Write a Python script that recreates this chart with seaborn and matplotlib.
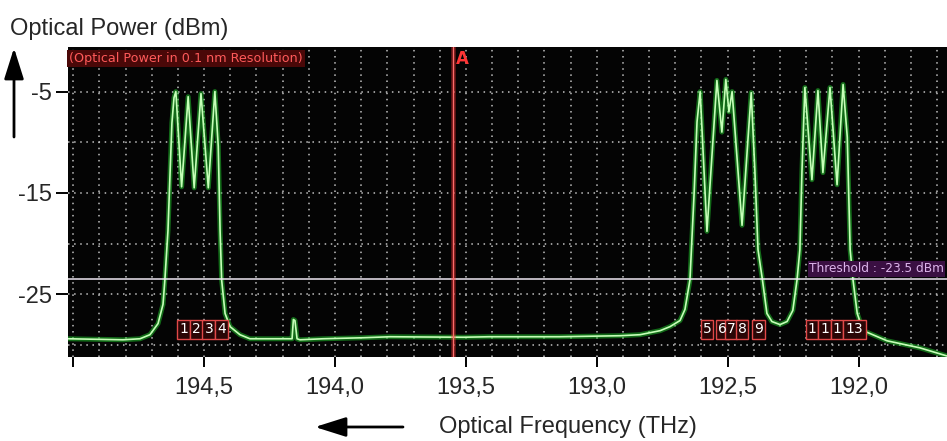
import numpy as np
import pandas as pd
import matplotlib.pyplot as plt
import seaborn as sns
from matplotlib import font_manager
from matplotlib.patches import Rectangle, FancyArrowPatch, ArrowStyle
from matplotlib.ticker import MultipleLocator

# OSA trace: optical frequency (THz) and power (dBm)
freq_thz = [195.020, 194.810, 194.745, 194.707, 194.676, 194.657, 194.650, 194.638, 194.631, 194.623,
            194.615, 194.608, 194.586, 194.561, 194.538, 194.512, 194.484, 194.459, 194.446, 194.439,
            194.433, 194.420, 194.401, 194.363, 194.325, 194.172, 194.164, 194.159, 194.153, 194.145,
            194.134, 194.046, 193.893, 193.790, 193.511, 193.410, 193.143, 192.911, 192.835, 192.758,
            192.720, 192.682, 192.663, 192.644, 192.628, 192.617, 192.605, 192.579, 192.541, 192.522,
            192.507, 192.495, 192.483, 192.445, 192.410, 192.396, 192.384, 192.367, 192.350, 192.331,
            192.300, 192.273, 192.251, 192.235, 192.224, 192.216, 192.205, 192.178, 192.155, 192.136,
            192.109, 192.082, 192.059, 192.043, 192.032, 192.021, 192.005, 191.982, 191.891, 191.765,
            191.662]
power_dbm = [-29.4, -29.5, -29.4, -29.0, -27.9, -26.0, -23.6, -18.7, -13.7, -8.1,
             -5.6, -5.0, -14.4, -5.5, -14.5, -5.2, -14.5, -5.0, -10.4, -18.7,
             -23.6, -26.9, -28.2, -29.0, -29.4, -29.4, -29.4, -27.5, -27.6, -29.4,
             -29.5, -29.4, -29.3, -29.2, -29.25, -29.2, -29.2, -29.1, -29.0, -28.6,
             -28.2, -27.6, -26.5, -23.6, -15.0, -8.0, -5.0, -18.8, -3.9, -9.0,
             -3.8, -7.0, -5.0, -18.2, -5.1, -12.8, -20.6, -23.6, -26.9, -27.7,
             -28.0, -27.7, -26.6, -23.6, -20.6, -12.8, -4.6, -13.7, -4.9, -13.0,
             -4.6, -14.2, -4.3, -9.5, -20.6, -23.6, -26.9, -28.6, -29.6, -30.3,
             -31.1]

# channel label boxes
channel_labels = ['1', '2', '3', '4', '5', '6', '7', '8', '9', '1', '1', '1', '13']
channel_label_freq = [194.579, 194.530, 194.482, 194.433, 192.579, 192.519, 192.487, 192.445,
                      192.382, 192.178, 192.130, 192.082, 192.017]

threshold_dbm = -23.5
marker_freq = 193.549

x_ticks = [195.0, 194.5, 194.0, 193.5, 193.0, 192.5, 192.0]
x_tick_labels = ['', '194,5', '194,0', '193,5', '193,0', '192,5', '192,0']
y_ticks = [-5, -15, -25]
y_tick_labels = ['-5', '-15', '-25']

df = pd.DataFrame({'freq': freq_thz, 'power': power_dbm})

sns.set_style('white')
names = {f.name for f in font_manager.fontManager.ttflist}
label_font = 'Liberation Sans Narrow' if 'Liberation Sans Narrow' in names else 'Liberation Sans'
plt.rcParams['font.family'] = [label_font, 'DejaVu Sans']

W, H = 947, 441
fig = plt.figure(figsize=(W / 100, H / 100), dpi=100)
ax = fig.add_axes([68 / W, 1 - 357 / H, (W - 68) / W, 310 / H])
ax.set_facecolor('#040404')

# glow + core of the green trace
sns.lineplot(data=df, x='freq', y='power', ax=ax, sort=False, estimator=None,
             color='#1fbf2a', linewidth=3.6, alpha=0.55)
sns.lineplot(data=df, x='freq', y='power', ax=ax, sort=False, estimator=None,
             color='#c6ffb8', linewidth=1.2)

ax.set_xlim(195.02, 191.662)
ax.set_ylim(-31.2, -0.6)

# dotted screen graticule
ax.xaxis.set_minor_locator(MultipleLocator(0.1))
ax.yaxis.set_minor_locator(MultipleLocator(5))
ax.grid(True, which='both', color='#c0c0c0', linestyle=(0, (1, 3)), linewidth=1.1)
ax.set_axisbelow(True)

# threshold line and text
ax.axhline(threshold_dbm, color='#eee6f2', linewidth=1.1, zorder=3)
ax.text(192.19, threshold_dbm + 0.35, 'Threshold : -23.5 dBm', color='#dcb4ea',
        fontsize=8.7, family='DejaVu Sans', va='bottom', ha='left',
        bbox=dict(boxstyle='square,pad=0.1', facecolor='#3a0f42', edgecolor='none'))

# marker A
ax.axvline(marker_freq, color='#ff2a2a', linewidth=3.5, alpha=0.35, zorder=3)
ax.axvline(marker_freq, color='#ff6a6a', linewidth=1.0, zorder=3)
ax.text(marker_freq - 0.01, -0.9, 'A', color='#ff3535', fontsize=12, fontweight='bold',
        family='DejaVu Sans', va='top', ha='left')

ax.text(195.015, -1.1, '(Optical Power in 0.1 nm Resolution)', color='#ff5a5a', fontsize=9.2,
        family='DejaVu Sans', va='top', ha='left',
        bbox=dict(boxstyle='square,pad=0.15', facecolor='#4a0808', edgecolor='none'))

# channel number boxes
box_w = 0.0485
for lab, f in zip(channel_labels, channel_label_freq):
    w = box_w * (1 + 0.8 * (len(lab) - 1))
    ax.add_patch(Rectangle((f - w / 2, -29.4), w, 1.9, facecolor='#2a0606',
                           edgecolor='#e04848', linewidth=1.0, zorder=4))
    ax.text(f, -28.45, lab, color='white', fontsize=10, family='DejaVu Sans',
            ha='center', va='center', zorder=5)

for s in ax.spines.values():
    s.set_visible(False)

ax.set_xticks(x_ticks)
ax.set_xticklabels(x_tick_labels)
ax.set_yticks(y_ticks)
ax.set_yticklabels(y_tick_labels)
ax.tick_params(axis='x', which='major', direction='out', length=7.5, width=1.4, color='black',
               pad=7, labelsize=17, bottom=True)
ax.tick_params(axis='y', which='major', direction='out', length=8.5, width=1.4, color='black',
               pad=3, labelsize=17, left=True)
ax.tick_params(which='minor', length=0)
ax.set_xlabel('')
ax.set_ylabel('')

fig.text(10 / W, 1 - 35 / H, 'Optical Power (dBm)', fontsize=17, ha='left', va='baseline')
fig.text(439 / W, 1 - 433 / H, 'Optical Frequency (THz)', fontsize=17, ha='left', va='baseline')

arrow_style = ArrowStyle('-|>', head_length=19, head_width=6)
fig.add_artist(FancyArrowPatch((14 / W, 1 - 137 / H), (14 / W, 1 - 48 / H), transform=fig.transFigure,
                               arrowstyle=arrow_style, mutation_scale=1, color='black', linewidth=2,
                               shrinkA=0, shrinkB=0))
fig.add_artist(FancyArrowPatch((403 / W, 1 - 427 / H), (315 / W, 1 - 427 / H), transform=fig.transFigure,
                               arrowstyle=arrow_style, mutation_scale=1, color='black', linewidth=2,
                               shrinkA=0, shrinkB=0))

fig.savefig('out.png', dpi=100, facecolor='white')
